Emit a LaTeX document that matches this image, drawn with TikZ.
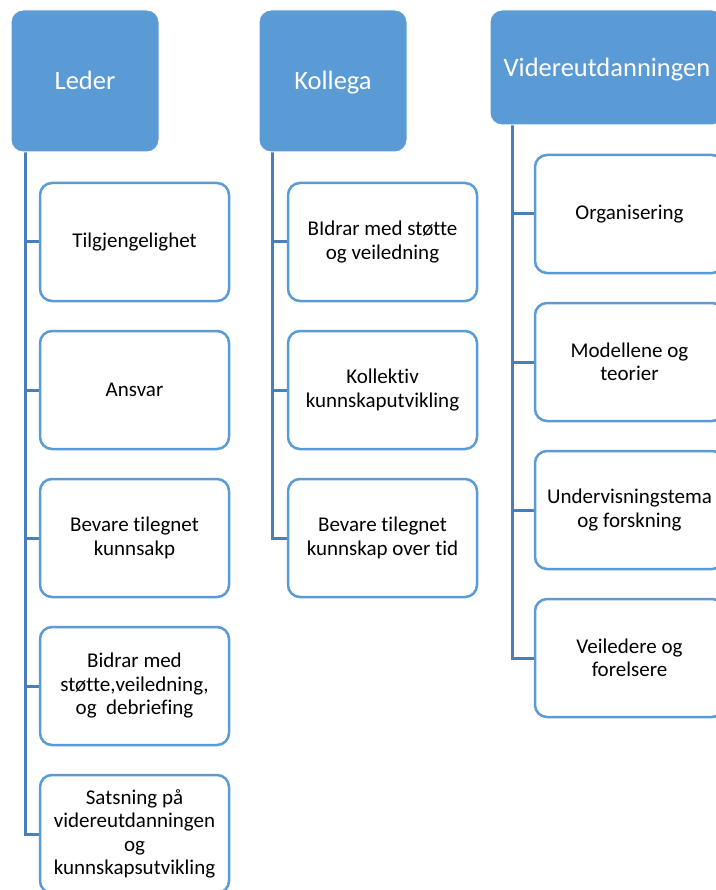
\documentclass[tikz,border=0pt]{standalone}
\usepackage{fontspec}
\setmainfont{Carlito}[Ligatures={NoCommon}]
\usepackage{tikz}
\usetikzlibrary{positioning,backgrounds}
\definecolor{headblue}{HTML}{5B9BD5}
\definecolor{lineblue}{HTML}{4A7EBB}

\begin{document}
\begin{tikzpicture}[
    x=1pt, y=1pt,
    node distance=30pt,
    every node/.style={rounded corners=12pt, outer sep=0pt, align=center},
    head/.style={fill=headblue, draw=white, line width=1pt, text=white, text height=18pt, text depth=0pt, font=\fontsize{26.5}{30}\selectfont},
    item/.style={draw=headblue, line width=2.5pt, fill=white, minimum width=189pt, minimum height=118pt, text=black, font=\fontsize{21}{23.5}\selectfont},
    conn/.style={draw=lineblue, line width=3pt}
]
\useasboundingbox (0,0) rectangle (715,-890);

\node[head, minimum width=148pt, minimum height=142pt] (leder) at (85,-81) {Leder};
\node[head, minimum width=148pt, minimum height=142pt] (kollega) at (333,-81) {Kollega};
\node[head, minimum width=234pt, minimum height=115pt] (videre) at (607,-67.5) {Videreutdanningen};

\node[item] (tilgj) at (134.5,-242) {Tilgjengelighet};
\node[item, below=of tilgj] (ansvar) {Ansvar};
\node[item, below=of ansvar] (bevare_l) {Bevare tilegnet\\kunnsakp};
\node[item, below=of bevare_l] (bidrar_l) {Bidrar med\\støtte,veiledning,\\og~ debriefing};
\node[item, below=of bidrar_l] (satsning) {Satsning på\\videreutdanningen\\og\\kunnskapsutvikling};

\node[item] (bidrar_k) at (382.5,-242) {BIdrar med støtte\\og veiledning};
\node[item, below=of bidrar_k] (kollektiv) {Kollektiv\\kunnskaputvikling};
\node[item, below=of kollektiv] (bevare_k) {Bevare tilegnet\\kunnskap over tid};

\node[item] (organisering) at (629.5,-214) {Organisering};
\node[item, below=of organisering] (modellene) {Modellene og\\teorier};
\node[item, below=of modellene] (undervisning) {Undervisningstema\\og forskning};
\node[item, below=of undervisning] (veiledere) {Veiledere og\\forelsere};

\coordinate[right=14pt of leder.south west] (lspine);
\coordinate[right=13pt of kollega.south west] (kspine);
\coordinate[right=22pt of videre.south west] (vspine);

\begin{scope}[on background layer]
\draw[conn] (lspine) |- (tilgj.west);
\draw[conn] (lspine) |- (ansvar.west);
\draw[conn] (lspine) |- (bevare_l.west);
\draw[conn] (lspine) |- (bidrar_l.west);
\draw[conn] (lspine) |- (satsning.west);

\draw[conn] (kspine) |- (bidrar_k.west);
\draw[conn] (kspine) |- (kollektiv.west);
\draw[conn] (kspine) |- (bevare_k.west);

\draw[conn] (vspine) |- (organisering.west);
\draw[conn] (vspine) |- (modellene.west);
\draw[conn] (vspine) |- (undervisning.west);
\draw[conn] (vspine) |- (veiledere.west);
\end{scope}

\end{tikzpicture}
\end{document}
